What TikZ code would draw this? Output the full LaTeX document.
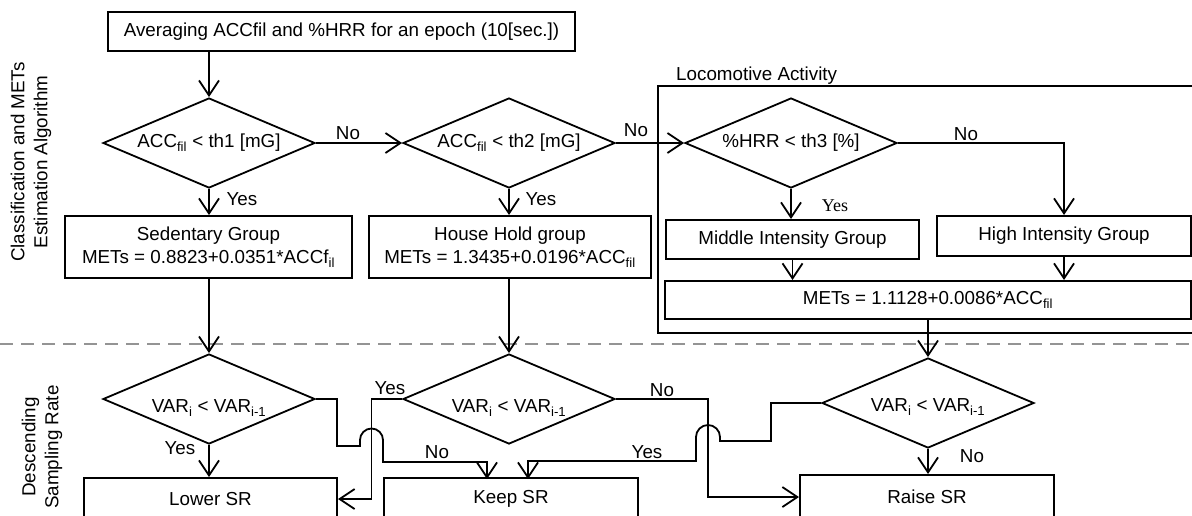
\documentclass[tikz,border=0pt]{standalone}
\usepackage{fontspec}
\setmainfont{Liberation Sans}
\newfontfamily\yesserif{Liberation Serif}
\usetikzlibrary{arrows.meta,shapes.geometric}
\begin{document}
\begin{tikzpicture}[x=1pt,y=-1pt,
  every node/.style={font=\fontsize{18.8}{23}\selectfont, inner sep=0pt},
  box/.style={draw, line width=2pt, rectangle, align=center},
  dec/.style={draw, line width=1.8pt, diamond, minimum width=212pt, minimum height=90pt},
  conn/.style={line width=1.8pt, -{Straight Barb[length=15pt,width=20pt]}},
  wire/.style={line width=1.8pt},
  lbl/.style={inner sep=0pt}]
\useasboundingbox (0,0) rectangle (1192,515);

% separator
\draw[line width=2.5pt, color=black!42, dash pattern=on 13pt off 8pt] (0,344) -- (1192,344);

% side labels
\node[rotate=90, align=center] (side1) at (31,162) {Classification and METs\\Estimation Algorithm};
\node[rotate=90, align=center] (side2) at (42,447) {Descending\\Sampling Rate};

% locomotive frame
\draw[line width=2pt] (1200,86) -- (658,86) -- (658,333) -- (1200,333);
\node[lbl, anchor=west] (loclbl) at (676,76) {Locomotive Activity};

% top part
\node[box, minimum width=467pt, minimum height=39pt] (top) at (341.5,31.5) {Averaging ACCfil and \%HRR for an epoch (10[sec.])};
\node[dec] (d1) at (209,143) {\makebox[0pt]{ACC\textsubscript{fil} < th1 [mG]}};
\node[dec] (d2) at (509,143) {\makebox[0pt]{ACC\textsubscript{fil} < th2 [mG]}};
\node[dec] (d3) at (791,143) {\makebox[0pt]{\%HRR < th3 [\%]}};

\node[box, minimum width=287pt, minimum height=62pt] (sed) at (208.5,247) {Sedentary Group\\METs = 0.8823+0.0351*ACCf\textsubscript{il}};
\node[box, minimum width=282pt, minimum height=62pt] (house) at (510,247) {House Hold group\\METs = 1.3435+0.0196*ACC\textsubscript{fil}};
\node[box, minimum width=253pt, minimum height=39pt] (mid) at (792.5,239.5) {Middle Intensity Group};
\node[box, minimum width=254pt, minimum height=40pt] (high) at (1064,236) {High Intensity Group};
\node[box, minimum width=526pt, minimum height=38pt] (mets) at (928,300) {METs = 1.1128+0.0086*ACC\textsubscript{fil}};

% bottom part
\node[dec, label={[yshift=-9pt]center:VAR\textsubscript{i} < VAR\textsubscript{i-1}}] (d4) at (209,399) {};
\node[dec, label={[yshift=-9pt]center:VAR\textsubscript{i} < VAR\textsubscript{i-1}}] (d5) at (509,399) {};
\node[dec, label={[yshift=-4pt]center:VAR\textsubscript{i} < VAR\textsubscript{i-1}}] (d6) at (928,403) {};

\node[box, minimum width=253pt, minimum height=42pt] (lower) at (210.5,499) {Lower SR};
\node[box, minimum width=254pt, minimum height=42pt] (keep) at (511,499) {Keep SR};
\node[box, minimum width=254pt, minimum height=44pt] (raise) at (927,497) {Raise SR};

% connectors top
\draw[conn] (d1.north |- top.south) -- (d1.north);
\draw[conn] (d1.east) -- (d2.west);
\draw[conn] (d2.east) -- (d3.west);
\draw[conn] (d3.east) -| (high.north);
\draw[conn] (d1.south) -- (d1.south |- sed.north);
\draw[conn] (d2.south) -- (d2.south |- house.north);
\draw[conn] (d3.south) -- (d3.south |- mid.north);
\draw[conn] (mid.south) -- (mid.south |- mets.north);
\draw[conn] (high.south) -- (high.south |- mets.north);
\draw[conn] (d4.north |- sed.south) -- (d4.north);
\draw[conn] (d5.north |- house.south) -- (d5.north);
\draw[conn] (d6.north |- mets.south) -- (d6.north);

% connectors bottom
\draw[conn] (d4.south) -- (d4.south |- lower.north);
\draw[conn] (d6.south) -- (d6.south |- raise.north);
\coordinate (a1) at (337,446);
\coordinate (a2) at (383,462);
\draw[conn] (d4.east) -- (337,399) -- (a1) -- (360,446) -- (360,440)
   arc[start angle=180, end angle=360, radius=11.5] -- (a2) -- (487,462) -- (487,479);
\draw[conn] (d5.west) -- (371.5,399) |- (lower.east);
\draw[conn] (d5.east) -- (708,399) |- (raise.west);
\draw[conn] (d6.west) -- (771,403) -- (771,441) -- (720,441) -- (720,437)
   arc[start angle=0, end angle=-180, radius=12] -- (696,461) -- (528,461) -- (528,479);

% labels
\node (n1) at (348,133) {No};
\node (n2) at (636,130) {No};
\node (n3) at (966,134) {No};
\node (y1) at (242,199) {Yes};
\node (y2) at (541,199) {Yes};
\node[font=\yesserif\fontsize{18}{22}\selectfont] (y3) at (835,206) {Yes};
\node (y4) at (180,448) {Yes};
\node (y5) at (390,388) {Yes};
\node (n4) at (437,452) {No};
\node (n5) at (662,390) {No};
\node (y6) at (647,452) {Yes};
\node (n6) at (972,456) {No};
\end{tikzpicture}
\end{document}
